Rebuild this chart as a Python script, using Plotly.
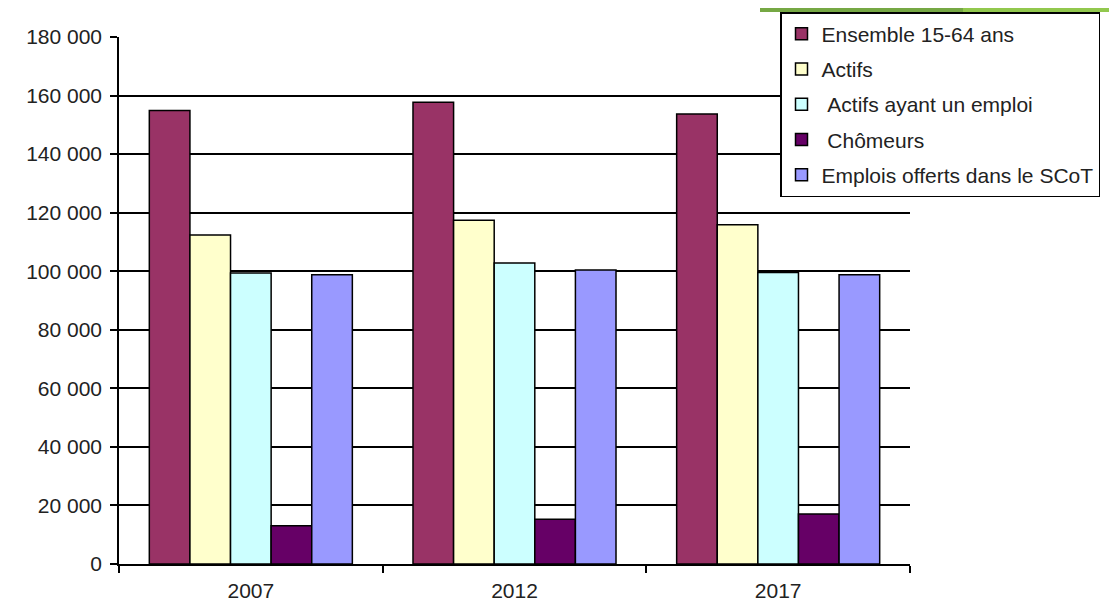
import plotly.graph_objects as go

years = ["2007", "2012", "2017"]
series_names = [
    "Ensemble 15-64 ans",
    "Actifs",
    "\u00a0Actifs ayant un emploi",
    "\u00a0Chômeurs",
    "Emplois offerts dans le SCoT",
]
ensemble = [154900, 157700, 153700]
actifs = [112400, 117400, 115900]
actifs_emploi = [99400, 102800, 99600]
chomeurs = [13100, 15300, 17100]
emplois = [98800, 100400, 98800]
colors = ["#993366", "#FFFFCC", "#CCFFFF", "#660066", "#9999FF"]
y_ticks = [0, 20000, 40000, 60000, 80000, 100000, 120000, 140000, 160000, 180000]
y_tick_text = ["0", "20 000", "40 000", "60 000", "80 000", "100 000",
               "120 000", "140 000", "160 000", "180 000"]

all_values = [ensemble, actifs, actifs_emploi, chomeurs, emplois]

# page body adds an 8px offset; compensate so the plot lands where the reference has it
OFF = 8
W, H = 1117 - OFF, 607 - OFF
L, T = 119 - OFF, 37 - OFF
PW, PH = 791, 527
R, B = W - L - PW, H - T - PH

fig = go.Figure()
for i, (name, vals, col) in enumerate(zip(series_names, all_values, colors)):
    fig.add_trace(go.Bar(
        x=years, y=vals, name=name,
        marker=dict(color=col, line=dict(color="#000000", width=1.5)),
        legendgroup="g%d" % i,
    ))

font_family = "Liberation Sans, Arial, sans-serif"
fig.update_layout(
    width=W, height=H,
    margin=dict(l=L, r=R, t=T, b=B, autoexpand=False),
    paper_bgcolor="white", plot_bgcolor="white",
    barmode="group", bargap=0.23, bargroupgap=0,
    font=dict(family=font_family, size=20, color="#222222"),
    showlegend=True,
    legend=dict(
        x=(780 - OFF - L) / PW, xanchor="left", xref="paper",
        y=1 + (T - (12 - OFF)) / PH, yanchor="top", yref="paper",
        bgcolor="white", bordercolor="#000000", borderwidth=1.5,
        font=dict(family=font_family, size=21, color="#222222"),
        tracegroupgap=5, traceorder="grouped", itemwidth=30,
    ),
    xaxis=dict(
        type="category", showline=True, linecolor="#000000", linewidth=1.5,
        ticks="outside", tickson="boundaries", ticklen=7, tickcolor="#000000",
        tickwidth=1.5, showgrid=False, ticklabelstandoff=7,
        tickfont=dict(family=font_family, size=21, color="#222222"),
    ),
    yaxis=dict(
        range=[0, 180000], tickvals=y_ticks, ticktext=y_tick_text,
        showline=True, linecolor="#000000", linewidth=1.5,
        ticks="outside", ticklen=7, tickcolor="#000000", tickwidth=1.5,
        showgrid=True, gridcolor="#000000", gridwidth=1.5,
        zeroline=False, ticklabelstandoff=4,
        tickfont=dict(family=font_family, size=21, color="#222222"),
    ),
    shapes=[
        dict(type="rect", xref="paper", yref="paper",
             x0=(760 - OFF - L) / PW, x1=(963 - OFF - L) / PW,
             y0=1 + (T - 4) / PH, y1=1 + T / PH,
             fillcolor="#76a844", line=dict(width=0)),
        dict(type="rect", xref="paper", yref="paper",
             x0=(963 - OFF - L) / PW, x1=(W - L) / PW,
             y0=1 + (T - 4) / PH, y1=1 + T / PH,
             fillcolor="#92c84e", line=dict(width=0)),
    ],
)

fig.write_html("out.html")
